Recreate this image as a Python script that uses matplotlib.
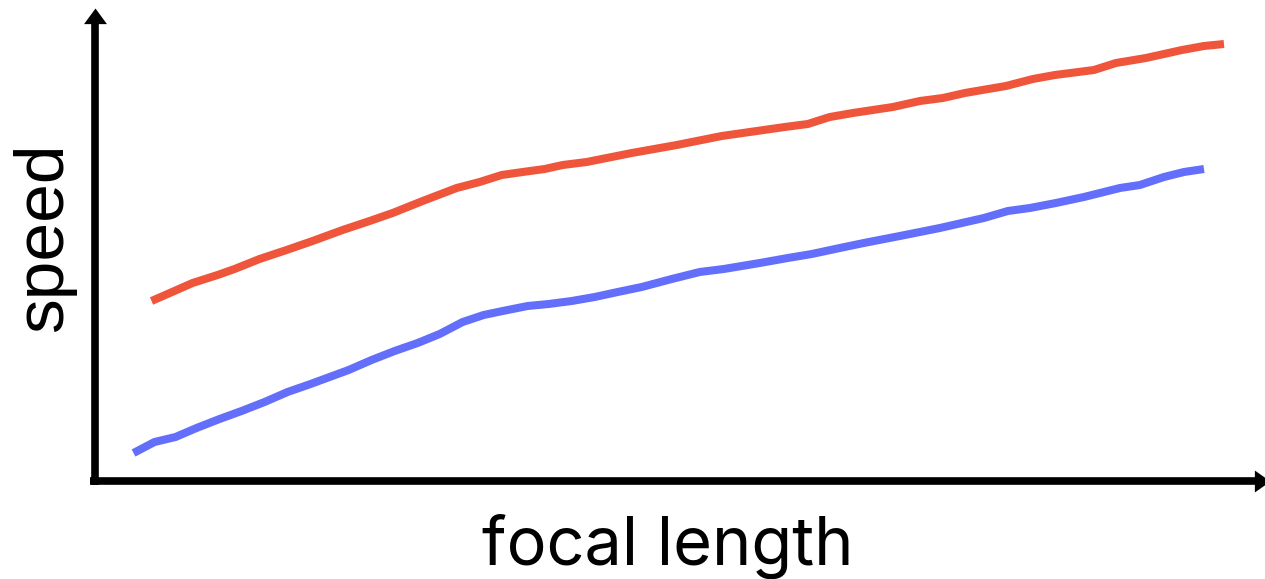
import matplotlib.pyplot as plt

# values (arbitrary units, no ticks on the original)
focal_red = [57, 73, 98, 123, 140, 165, 192, 218, 248, 275, 298, 328, 362, 385,
             407, 428, 450, 468, 492, 537, 582, 627, 690, 713, 735, 758, 798, 825,
             848, 870, 911, 938, 960, 999, 1021, 1051, 1087, 1109, 1129]
speed_red = [182, 189, 200, 208, 214, 224, 233, 242, 253, 262, 270, 282, 295, 301,
             308, 311, 314, 318, 321, 330, 338, 347, 356, 359, 366, 370, 376, 382,
             385, 390, 397, 404, 408, 413, 420, 425, 433, 437, 439]

focal_blue = [39, 60, 81, 102, 125, 147, 170, 193, 216, 235, 254, 277, 300, 323,
              345, 368, 389, 408, 433, 454, 477, 500, 523, 547, 577, 605, 629, 665,
              693, 717, 745, 769, 805, 845, 889, 913, 935, 961, 989, 1025, 1045,
              1069, 1089, 1109]
speed_blue = [30, 41, 46, 55, 64, 72, 81, 91, 99, 106, 113, 123, 132, 140,
              149, 161, 168, 172, 177, 179, 182, 186, 191, 196, 204, 211, 214, 220,
              225, 229, 235, 240, 247, 255, 265, 272, 275, 280, 286, 295, 298,
              306, 311, 314]

RED = "#EF553B"
BLUE = "#636EFA"

W, H = 1265, 579
fig = plt.figure(figsize=(W / 100, H / 100), dpi=100)
ax = fig.add_axes([94.5 / W, (H - 481) / H, (1270 - 94.5) / W, (481 - 8) / H])
ax.set_xlim(0, 1175)
ax.set_ylim(2, 475)

ax.plot(focal_red, speed_red, color=RED, lw=5.8, solid_capstyle="butt", solid_joinstyle="round")
ax.plot(focal_blue, speed_blue, color=BLUE, lw=5.8, solid_capstyle="butt", solid_joinstyle="round")

# axis lines with arrow heads
for side in ["top", "right"]:
    ax.spines[side].set_visible(False)
ax.spines["left"].set_linewidth(5.5)
ax.spines["bottom"].set_linewidth(5.5)
ax.spines["left"].set_capstyle("butt")
ax.spines["bottom"].set_capstyle("butt")
ax.spines["left"].set_bounds(-2, 461)
ax.spines["bottom"].set_bounds(-4, 1161)
ax.set_xticks([])
ax.set_yticks([])

up_head = [(0, 0), (-11, -15), (11, -15), (0, 0)]
right_head = [(0, 0), (-15, -10.5), (-15, 10.5), (0, 0)]
ax.plot([0], [475], marker=up_head, ms=22.5, color="black", mew=0, clip_on=False)
ax.plot([1175], [2], marker=right_head, ms=22.5, color="black", mew=0, clip_on=False)

fig.text(668 / W, (H - 565) / H, "focal length", family="Inter", fontsize=48,
         ha="center", va="baseline")
fig.text(62 / W, (H - 237) / H, "speed", family="Liberation Sans", fontsize=50,
         rotation=90, rotation_mode="anchor", ha="center", va="baseline")

fig.savefig("out.png", dpi=100)
